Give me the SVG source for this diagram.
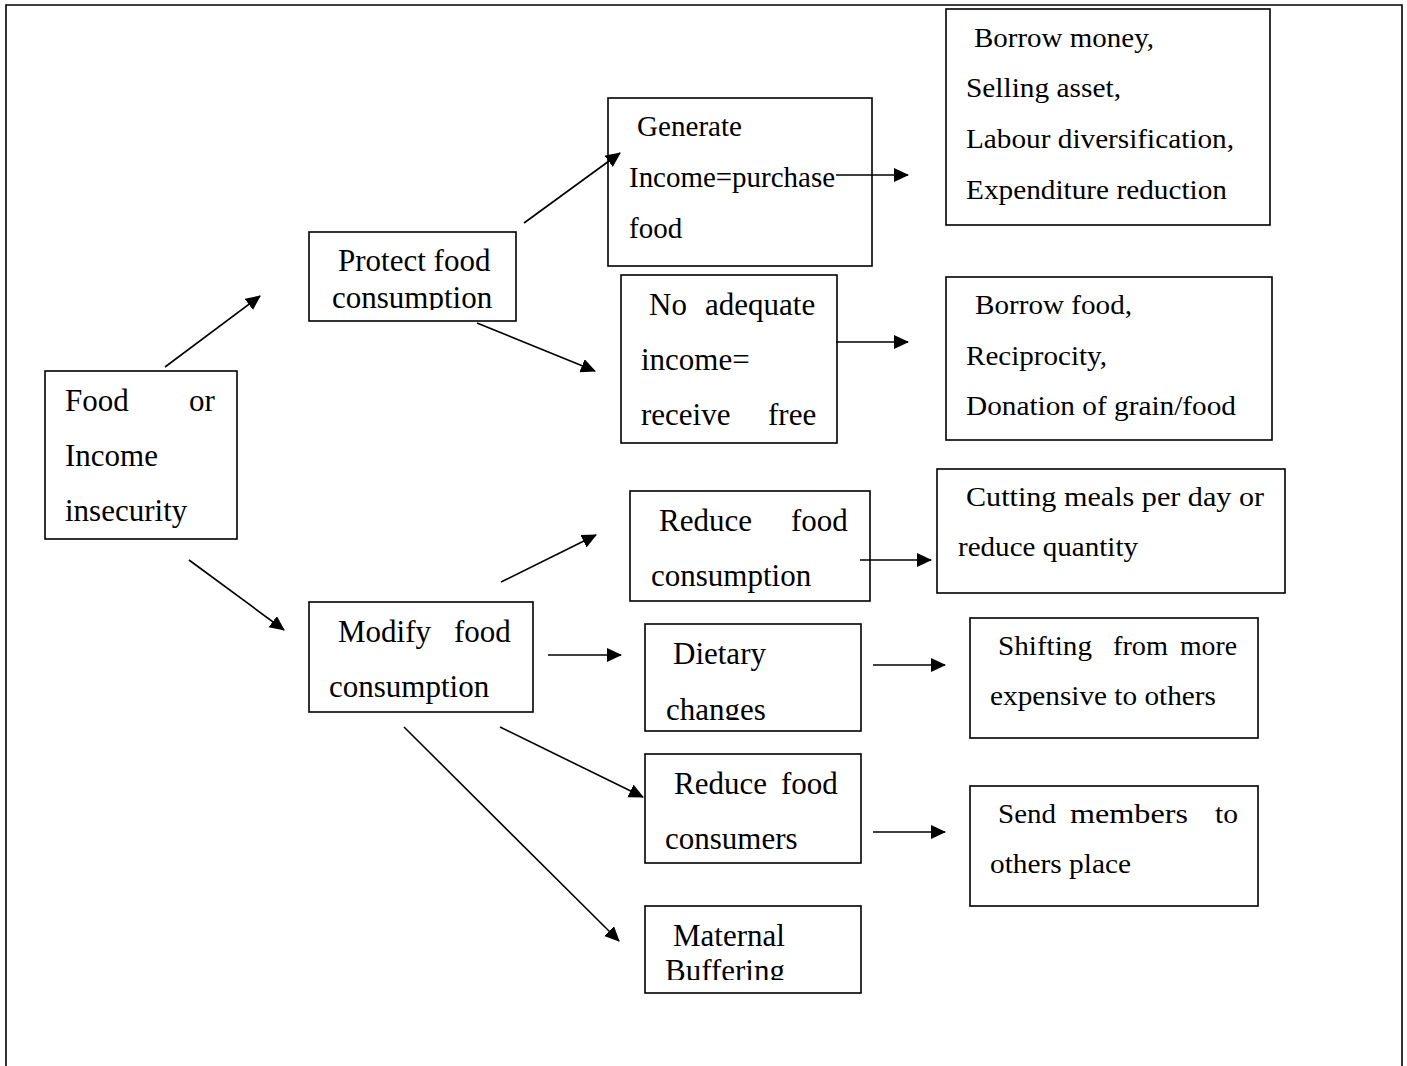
<svg xmlns="http://www.w3.org/2000/svg" width="1407" height="1066" viewBox="0 0 1407 1066">
<style>
.box{fill:#fff;stroke:#000;stroke-width:1.6}
.t{font-family:"Liberation Serif","Times New Roman",serif;font-size:31px;fill:#000}
.g{font-family:"Liberation Serif","Times New Roman",serif;font-size:29px;fill:#000}
.s{font-family:"Liberation Serif","Times New Roman",serif;font-size:27px;fill:#000}
.c{stroke:#000;stroke-width:1.6;fill:none;marker-end:url(#ah)}
</style>
<defs>
<marker id="ah" markerUnits="userSpaceOnUse" markerWidth="16" markerHeight="15" refX="14" refY="7" orient="auto">
<path d="M0,0 L15,7 L0,14 z" fill="#000"/>
</marker>
<clipPath id="cpProtect"><rect x="309" y="232" width="207" height="78"/></clipPath>
<clipPath id="cpDiet"><rect x="645" y="624" width="216" height="96"/></clipPath>
<clipPath id="cpMat"><rect x="645" y="906" width="216" height="74"/></clipPath>
</defs>
<rect width="1407" height="1066" fill="#fff"/>
<path d="M6,1066 V5 H1402 V1066" fill="none" stroke="#000" stroke-width="1.6"/>

<g id="food-insecurity">
<rect class="box" x="45" y="371" width="192" height="168"/>
<text class="t" x="65" y="411">Food</text>
<text class="t" x="189" y="411">or</text>
<text class="t" x="65" y="466">Income</text>
<text class="t" x="65" y="521">insecurity</text>
</g>

<g id="protect">
<rect class="box" x="309" y="232" width="207" height="89"/>
<g clip-path="url(#cpProtect)">
<text class="t" x="338" y="271">Protect food</text>
<text class="t" x="332" y="308">consumption</text>
</g>
</g>

<g id="generate">
<rect class="box" x="608" y="98" width="264" height="168"/>
<text class="g" x="637" y="136" textLength="105" lengthAdjust="spacingAndGlyphs">Generate</text>
<text class="g" x="629" y="187" textLength="206" lengthAdjust="spacingAndGlyphs">Income=purchase</text>
<text class="g" x="629" y="238">food</text>
</g>

<g id="no-adequate">
<rect class="box" x="621" y="275" width="216" height="168"/>
<text class="t" x="649" y="315">No</text>
<text class="t" x="705" y="315">adequate</text>
<text class="t" x="641" y="370">income=</text>
<text class="t" x="641" y="425">receive</text>
<text class="t" x="768" y="425">free</text>
</g>

<g id="borrow-money">
<rect class="box" x="946" y="9" width="324" height="216"/>
<text class="s" x="974" y="47" textLength="180" lengthAdjust="spacingAndGlyphs">Borrow money,</text>
<text class="s" x="966" y="97" textLength="155" lengthAdjust="spacingAndGlyphs">Selling asset,</text>
<text class="s" x="966" y="148" textLength="268" lengthAdjust="spacingAndGlyphs">Labour diversification,</text>
<text class="s" x="966" y="199" textLength="261" lengthAdjust="spacingAndGlyphs">Expenditure reduction</text>
</g>

<g id="borrow-food">
<rect class="box" x="946" y="277" width="326" height="163"/>
<text class="s" x="975" y="314" textLength="157" lengthAdjust="spacingAndGlyphs">Borrow food,</text>
<text class="s" x="966" y="365" textLength="141" lengthAdjust="spacingAndGlyphs">Reciprocity,</text>
<text class="s" x="966" y="415" textLength="270" lengthAdjust="spacingAndGlyphs">Donation of grain/food</text>
</g>

<g id="modify">
<rect class="box" x="309" y="602" width="224" height="110"/>
<text class="t" x="338" y="642">Modify</text>
<text class="t" x="454" y="642">food</text>
<text class="t" x="329" y="697">consumption</text>
</g>

<g id="reduce-consumption">
<rect class="box" x="630" y="491" width="240" height="110"/>
<text class="t" x="659" y="531">Reduce</text>
<text class="t" x="791" y="531">food</text>
<text class="t" x="651" y="586">consumption</text>
</g>

<g id="cutting-meals">
<rect class="box" x="937" y="469" width="348" height="124"/>
<text class="s" x="966" y="506" textLength="298" lengthAdjust="spacingAndGlyphs">Cutting meals per day or</text>
<text class="s" x="958" y="556" textLength="180" lengthAdjust="spacingAndGlyphs">reduce quantity</text>
</g>

<g id="dietary">
<rect class="box" x="645" y="624" width="216" height="107"/>
<g clip-path="url(#cpDiet)">
<text class="t" x="673" y="664">Dietary</text>
<text class="t" x="666" y="720">changes</text>
</g>
</g>

<g id="shifting">
<rect class="box" x="970" y="618" width="288" height="120"/>
<text class="s" x="998" y="655" textLength="94" lengthAdjust="spacingAndGlyphs">Shifting</text>
<text class="s" x="1113" y="655" textLength="55" lengthAdjust="spacingAndGlyphs">from</text>
<text class="s" x="1180" y="655" textLength="57" lengthAdjust="spacingAndGlyphs">more</text>
<text class="s" x="990" y="705" textLength="226" lengthAdjust="spacingAndGlyphs">expensive to others</text>
</g>

<g id="reduce-consumers">
<rect class="box" x="645" y="754" width="216" height="109"/>
<text class="t" x="674" y="794">Reduce</text>
<text class="t" x="781" y="794">food</text>
<text class="t" x="665" y="849">consumers</text>
</g>

<g id="send-members">
<rect class="box" x="970" y="786" width="288" height="120"/>
<text class="s" x="998" y="823" textLength="58" lengthAdjust="spacingAndGlyphs">Send</text>
<text class="s" x="1070" y="823" textLength="118" lengthAdjust="spacingAndGlyphs">members</text>
<text class="s" x="1215" y="823" textLength="23" lengthAdjust="spacingAndGlyphs">to</text>
<text class="s" x="990" y="873" textLength="141" lengthAdjust="spacingAndGlyphs">others place</text>
</g>

<g id="maternal">
<rect class="box" x="645" y="906" width="216" height="87"/>
<g clip-path="url(#cpMat)">
<text class="t" x="673" y="946">Maternal</text>
<text class="t" x="665" y="981">Buffering</text>
</g>
</g>

<g id="connectors">
<line class="c" x1="165" y1="367" x2="260" y2="296"/>
<line class="c" x1="189" y1="560" x2="284" y2="630"/>
<line class="c" x1="524" y1="223" x2="620" y2="153"/>
<line class="c" x1="477" y1="323" x2="595" y2="371"/>
<line class="c" x1="836" y1="175" x2="908" y2="175"/>
<line class="c" x1="836" y1="342" x2="908" y2="342"/>
<line class="c" x1="501" y1="582" x2="596" y2="535"/>
<line class="c" x1="860" y1="560" x2="931" y2="560"/>
<line class="c" x1="548" y1="655" x2="621" y2="655"/>
<line class="c" x1="873" y1="665" x2="945" y2="665"/>
<line class="c" x1="500" y1="727" x2="643" y2="797"/>
<line class="c" x1="873" y1="832" x2="945" y2="832"/>
<line class="c" x1="404" y1="727" x2="619" y2="941"/>
</g>
</svg>
